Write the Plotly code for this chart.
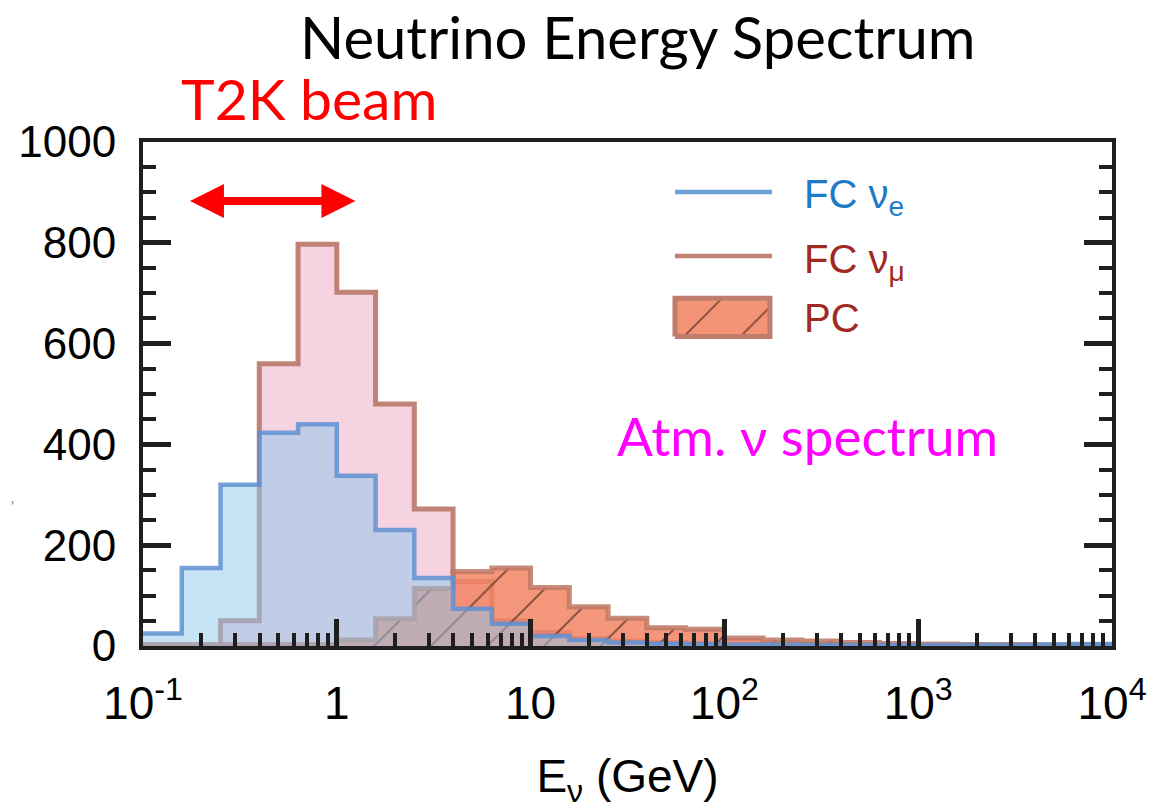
import plotly.graph_objects as go
import math

# Bin edges (GeV), 0.2-decade bins from 0.1 to 10^4
bin_edges = [0.1, 0.1585, 0.2512, 0.3981, 0.631, 1.0, 1.585, 2.512, 3.981, 6.31,
             10.0, 15.85, 25.12, 39.81, 63.1, 100.0, 158.5, 251.2, 398.1, 631.0,
             1000.0, 1585.0, 2512.0, 3981.0, 6310.0, 10000.0]

fc_nue = [25, 155, 320, 423, 440, 338, 230, 135, 74, 44, 20, 12, 7, 5, 4,
          3, 3, 2, 2, 2, 2, 2, 2, 3, 4]
fc_numu = [0, 0, 50, 560, 797, 702, 480, 272, 128, 50, 27, 15, 10, 7, 5,
           4, 3, 2, 2, 1, 1, 1, 1, 1, 1]
pc = [3, 3, 3, 3, 3, 12, 54, 114, 148, 155, 116, 78, 55, 36, 33,
      16, 12, 10, 7, 5, 4, 3, 3, 2, 2]

x_tickvals = [0.1, 1, 10, 100, 1000, 10000]
x_ticktext = ["10<sup>-1</sup>", "1", "10", "10<sup>2</sup>", "10<sup>3</sup>", "10<sup>4</sup>"]
y_tickvals = [0, 200, 400, 600, 800, 1000]


def steps(vals):
    return bin_edges, list(vals) + [vals[-1]]


fig = go.Figure()

xs, ys = steps(fc_numu)
fig.add_trace(go.Scatter(x=xs, y=ys, mode="lines", line_shape="hv",
                         line=dict(color="rgba(185,120,105,0.9)", width=5),
                         fill="tozeroy", fillcolor="rgba(233,158,189,0.45)",
                         showlegend=False, hoverinfo="skip"))

xs, ys = steps(pc)
fig.add_trace(go.Scatter(x=xs, y=ys, mode="lines", line_shape="hv",
                         line=dict(color="rgba(190,120,100,0.85)", width=5),
                         fill="tozeroy", fillcolor="rgba(242,132,99,0.85)",
                         fillpattern=dict(shape="/", bgcolor="rgba(242,132,99,0.85)",
                                          fgcolor="rgba(70,35,30,0.75)", size=40,
                                          solidity=0.04, fillmode="replace"),
                         showlegend=False, hoverinfo="skip"))

xs, ys = steps(fc_nue)
fig.add_trace(go.Scatter(x=xs, y=ys, mode="lines", line_shape="hv",
                         line=dict(color="rgba(95,145,210,0.85)", width=4.5),
                         fill="tozeroy", fillcolor="rgba(146,200,236,0.52)",
                         showlegend=False, hoverinfo="skip"))

# legend glyphs on an overlay axis (0..1 in plot area)
fig.add_trace(go.Scatter(x=[0.549, 0.649], y=[0.901, 0.901], mode="lines",
                         line=dict(color="rgb(110,160,215)", width=4.5),
                         xaxis="x2", yaxis="y2", showlegend=False, hoverinfo="skip"))
fig.add_trace(go.Scatter(x=[0.549, 0.649], y=[0.774, 0.774], mode="lines",
                         line=dict(color="rgb(190,130,115)", width=4.5),
                         xaxis="x2", yaxis="y2", showlegend=False, hoverinfo="skip"))
fig.add_trace(go.Scatter(x=[0.549, 0.647, 0.647, 0.549, 0.549],
                         y=[0.614, 0.614, 0.690, 0.690, 0.614], mode="lines",
                         line=dict(color="rgb(190,125,110)", width=5),
                         fill="toself", fillcolor="rgb(244,148,118)",
                         fillpattern=dict(shape="/", bgcolor="rgb(244,148,118)",
                                          fgcolor="rgba(90,45,40,0.8)", size=40,
                                          solidity=0.04, fillmode="replace"),
                         xaxis="x2", yaxis="y2", showlegend=False, hoverinfo="skip"))

axis_col = "#1e1e1e"
tick_font = dict(family="Liberation Sans, Arial, sans-serif", size=44, color="black")

fig.update_layout(
    width=1165, height=809,
    margin=dict(l=143, r=53, t=142, b=163, autoexpand=False),
    paper_bgcolor="white", plot_bgcolor="white",
    showlegend=False,
    xaxis=dict(type="log", range=[-1, 4], tickvals=x_tickvals, ticktext=x_ticktext,
               automargin=False,
               ticks="inside", ticklen=27, tickwidth=5, tickcolor=axis_col,
               showline=True, linewidth=4, linecolor=axis_col, mirror=True,
               showgrid=False, zeroline=False,
               tickfont=dict(family="Liberation Sans, Arial, sans-serif", size=46, color="black"),
               ticklabelstandoff=14,
               minor=dict(ticks="inside", ticklen=13, tickwidth=4, tickcolor=axis_col,
                          dtick="D1", showgrid=False),
               title=dict(text="E<sub>ν</sub> (GeV)", standoff=38,
                          font=dict(family="Liberation Sans, Arial, sans-serif", size=46, color="black"))),
    yaxis=dict(range=[0, 1000], tickvals=y_tickvals, automargin=False,
               ticks="inside", ticklen=28, tickwidth=5, tickcolor=axis_col,
               showline=True, linewidth=4, linecolor=axis_col, mirror="ticks",
               showgrid=False, zeroline=False, tickfont=tick_font,
               ticklabelstandoff=14,
               minor=dict(ticks="inside", ticklen=13, tickwidth=4, tickcolor=axis_col,
                          dtick=50, showgrid=False)),
    xaxis2=dict(overlaying="x", range=[0, 1], visible=False, fixedrange=True),
    yaxis2=dict(overlaying="y", range=[0, 1], visible=False, fixedrange=True),
)

ann = []
ann.append(dict(text="Neutrino Energy Spectrum", xref="paper", yref="paper",
                x=0.51, y=1.21, xanchor="center", yanchor="middle", showarrow=False,
                font=dict(family="Lato, Open Sans, sans-serif", size=58, color="black")))
ann.append(dict(text="T2K beam", xref="paper", yref="paper",
                x=0.171, y=1.088, xanchor="center", yanchor="middle", showarrow=False,
                font=dict(family="Lato, Open Sans, sans-serif", size=57, color="red")))
ann.append(dict(text="Atm. ν spectrum", xref="paper", yref="paper",
                x=0.487, y=0.417, xanchor="left", yanchor="middle", showarrow=False,
                font=dict(family="Lato, Open Sans, sans-serif", size=53, color="#ff00ff")))
leg_font = "Liberation Sans, Arial, sans-serif"
ann.append(dict(text="FC ν<sub>e</sub>", xref="paper", yref="paper",
                x=0.68, y=0.89, xanchor="left", yanchor="middle", showarrow=False,
                font=dict(family=leg_font, size=40, color="#1f7ac6")))
ann.append(dict(text="FC ν<sub>μ</sub>", xref="paper", yref="paper",
                x=0.68, y=0.762, xanchor="left", yanchor="middle", showarrow=False,
                font=dict(family=leg_font, size=40, color="#a02a20")))
ann.append(dict(text="PC", xref="paper", yref="paper",
                x=0.68, y=0.651, xanchor="left", yanchor="middle", showarrow=False,
                font=dict(family=leg_font, size=40, color="#a02a20")))
ann.append(dict(text="'", xref="paper", yref="paper",
                x=-0.135, y=0.274, xanchor="center", yanchor="middle", showarrow=False,
                font=dict(family=leg_font, size=16, color="#999999")))
# T2K double arrow
ann.append(dict(text="", xref="x", yref="y", axref="x", ayref="y",
                x=math.log10(0.1746), y=883, ax=math.log10(1.27), ay=883,
                showarrow=True, arrowhead=2, arrowside="end+start",
                arrowwidth=8, arrowsize=0.85, arrowcolor="red"))
fig.update_layout(annotations=ann)

fig.write_html("out.html", config={"displayModeBar": False},
               post_script="document.body.style.margin='0';document.body.style.padding='0';")
